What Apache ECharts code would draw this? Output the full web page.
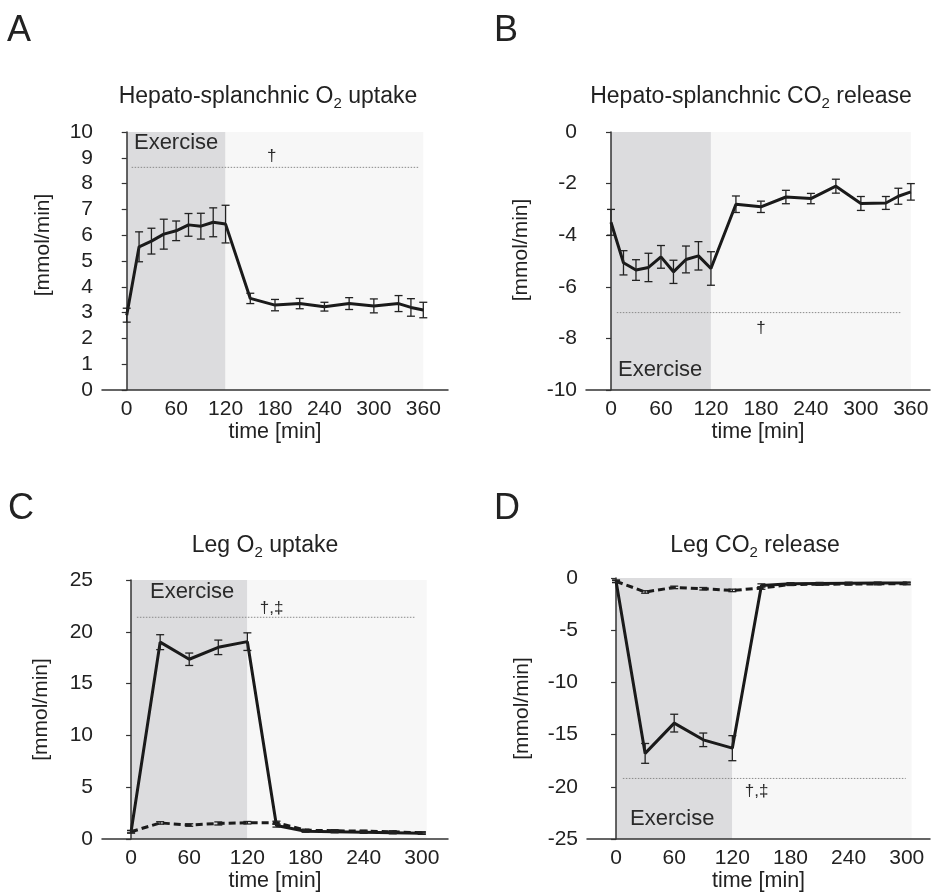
<!DOCTYPE html>
<html>
<head>
<meta charset="utf-8">
<script src="https://cdn.jsdelivr.net/npm/echarts@6/dist/echarts.min.js"></script>
<style>
html,body{margin:0;padding:0;background:#fff;}
#chart{width:935px;height:896px;}
</style>
</head>
<body>
<div id="chart"></div>
<script>
// ---- data ----
const timeHS = [0, 15, 30, 45, 60, 75, 90, 105, 120, 150, 180, 210, 240, 270, 300, 330, 345, 360];
const o2HS = [2.9, 5.55, 5.77, 6.04, 6.17, 6.4, 6.35, 6.5, 6.43, 3.55, 3.29, 3.35, 3.23, 3.35, 3.26, 3.35, 3.2, 3.1];
const o2HSErr = [0.27, 0.58, 0.5, 0.58, 0.38, 0.44, 0.5, 0.56, 0.73, 0.2, 0.22, 0.2, 0.17, 0.23, 0.27, 0.31, 0.34, 0.3];
const co2HS = [-3.5, -5.07, -5.35, -5.25, -4.84, -5.42, -4.94, -4.8, -5.29, -2.8, -2.9, -2.52, -2.58, -2.1, -2.77, -2.75, -2.49, -2.32];
const co2HSErr = [0.5, 0.47, 0.4, 0.55, 0.44, 0.45, 0.52, 0.55, 0.65, 0.32, 0.22, 0.26, 0.2, 0.27, 0.27, 0.25, 0.31, 0.32];

const timeLeg = [0, 30, 60, 90, 120, 150, 180, 210, 240, 270, 300];
const o2LegSolid = [0.7, 19.0, 17.35, 18.5, 19.05, 1.3, 0.75, 0.7, 0.65, 0.6, 0.55];
const o2LegSolidErr = [0.12, 0.72, 0.6, 0.7, 0.85, 0.15, 0.1, 0.1, 0.1, 0.1, 0.1];
const o2LegDashed = [0.7, 1.55, 1.35, 1.5, 1.57, 1.57, 0.85, 0.8, 0.75, 0.7, 0.6];
const o2LegDashedErr = [0.12, 0.12, 0.12, 0.15, 0.12, 0.15, 0.1, 0.1, 0.1, 0.1, 0.1];
const co2LegSolid = [-0.32, -16.8, -13.9, -15.5, -16.3, -0.71, -0.55, -0.52, -0.5, -0.49, -0.48];
const co2LegSolidErr = [0.12, 0.95, 0.85, 0.65, 1.2, 0.15, 0.1, 0.1, 0.1, 0.1, 0.1];
const co2LegDashed = [-0.32, -1.34, -0.9, -1.03, -1.19, -0.96, -0.62, -0.6, -0.58, -0.56, -0.55];
const co2LegDashedErr = [0.1, 0.12, 0.12, 0.12, 0.12, 0.12, 0.1, 0.1, 0.1, 0.1, 0.1];

const exerciseWindow = [0, 120];
const studyEndHS = 360;
const studyEndLeg = 305;

const xTicksHS = [0, 60, 120, 180, 240, 300, 360];
const xTicksLeg = [0, 60, 120, 180, 240, 300];

// significance lines and annotations
const sigLineA = [[6, 8.63], [354, 8.63]];
const sigLineB = [[7, -7.0], [348, -7.0]];
const sigLineC = [[6, 21.4], [293, 21.4]];
const sigLineD = [[7, -19.2], [299, -19.2]];
const sigTextA = [176, 9.04, '†'];
const sigTextB = [180, -7.6, '†'];
const sigTextC = [145, 22.3, '†,‡'];
const sigTextD = [145, -20.4, '†,‡'];
const exTextA = [60, 9.57, 'Exercise'];
const exTextB = [59, -9.24, 'Exercise'];
const exTextC = [63, 23.8, 'Exercise'];
const exTextD = [58, -23.05, 'Exercise'];

// ---- chart ----
const FONT = "'Liberation Sans', Arial, sans-serif";
const TXT = '#222';
const AX = '#333';

function pairs(xs, ys) { return xs.map((x, i) => [x, ys[i]]); }
function triples(xs, ys, es) { return xs.map((x, i) => [x, ys[i], es[i]]); }

function xAxisCfg(idx, min, max, ticks) {
  return {
    type: 'value', gridIndex: idx, min: min, max: max, interval: 30,
    axisLine: {onZero: false, lineStyle: {color: AX, width: 1.5}},
    axisTick: {show: false},
    splitLine: {show: false},
    axisLabel: {
      fontSize: 21, color: TXT, fontFamily: FONT, margin: 9,
      formatter: v => (ticks.indexOf(v) >= 0 ? String(v) : '')
    },
    name: 'time [min]', nameLocation: 'middle', nameGap: 30,
    nameTextStyle: {fontSize: 21.5, color: TXT, fontFamily: FONT}
  };
}
function yAxisCfg(idx, min, max, interval, gap, pad) {
  return {
    type: 'value', gridIndex: idx, min: min, max: max, interval: interval,
    axisLine: {show: true, lineStyle: {color: AX, width: 1.5}},
    axisTick: {show: true, inside: false, length: 5, lineStyle: {color: AX, width: 1.2}},
    splitLine: {show: false},
    axisLabel: {fontSize: 21, color: TXT, fontFamily: FONT, margin: 9},
    name: '[mmol/min]', nameLocation: 'middle', nameGap: gap,
    nameTextStyle: {fontSize: 21, color: TXT, fontFamily: FONT, padding: pad}
  };
}
function lineSeries(idx, data, dashed, shadeEnd) {
  const s = {
    type: 'line', xAxisIndex: idx, yAxisIndex: idx, data: data,
    symbol: 'none', z: 5,
    lineStyle: {color: '#1a1a1a', width: 3, type: dashed ? [7, 4] : 'solid'}
  };
  if (shadeEnd !== undefined) {
    s.markArea = {
      silent: true, z: 0,
      data: [
        [{xAxis: exerciseWindow[0], itemStyle: {color: '#dcdcde'}}, {xAxis: exerciseWindow[1]}],
        [{xAxis: exerciseWindow[1], itemStyle: {color: '#f7f7f7'}}, {xAxis: shadeEnd}]
      ]
    };
  }
  return s;
}
function errSeries(idx, data) {
  return {
    type: 'custom', xAxisIndex: idx, yAxisIndex: idx, data: data, z: 6,
    renderItem: function (params, api) {
      const x = api.value(0), y = api.value(1), e = api.value(2);
      const t = api.coord([x, y + e]);
      const b = api.coord([x, y - e]);
      const w = 4;
      const st = {stroke: '#222', lineWidth: 1.3};
      return {
        type: 'group', children: [
          {type: 'line', shape: {x1: t[0], y1: t[1], x2: b[0], y2: b[1]}, style: st},
          {type: 'line', shape: {x1: t[0] - w, y1: t[1], x2: t[0] + w, y2: t[1]}, style: st},
          {type: 'line', shape: {x1: b[0] - w, y1: b[1], x2: b[0] + w, y2: b[1]}, style: st}
        ]
      };
    }
  };
}
function sigSeries(idx, data) {
  return {
    type: 'line', xAxisIndex: idx, yAxisIndex: idx, data: data, symbol: 'none', z: 3,
    lineStyle: {color: '#8a8a8a', width: 1, type: [1.5, 1.5]}
  };
}
function textSeries(idx, items, size) {
  return {
    type: 'custom', xAxisIndex: idx, yAxisIndex: idx, data: items, z: 7,
    renderItem: function (params, api) {
      const p = api.coord([api.value(0), api.value(1)]);
      return {
        type: 'text', x: p[0], y: p[1],
        style: {text: items[params.dataIndex][2], fill: '#2a2a2a', fontSize: size,
          fontFamily: FONT, align: 'center', verticalAlign: 'middle'}
      };
    }
  };
}

const titleRich = {
  a: {fontSize: 23, color: TXT, fontFamily: FONT, lineHeight: 30},
  s: {fontSize: 15, color: TXT, fontFamily: FONT, lineHeight: 30, padding: [13, 0, 0, 0]}
};
function titleCfg(text, cx, top) {
  return {text: text, left: cx, top: top, textAlign: 'center', padding: 0,
    textStyle: {rich: titleRich, fontSize: 23, fontWeight: 'normal', color: TXT, fontFamily: FONT}};
}
function letterCfg(text, left, top) {
  return {text: text, left: left, top: top, padding: 0,
    textStyle: {fontSize: 36, fontWeight: 'normal', color: TXT, fontFamily: FONT}};
}

const option = {
  animation: false,
  backgroundColor: '#fff',
  title: [
    letterCfg('A', 7, 13),
    letterCfg('B', 494, 13),
    letterCfg('C', 8, 491),
    letterCfg('D', 494, 491),
    titleCfg('{a|Hepato-splanchnic O}{s|2}{a| uptake}', 268, 82),
    titleCfg('{a|Hepato-splanchnic CO}{s|2}{a| release}', 751, 82),
    titleCfg('{a|Leg O}{s|2}{a| uptake}', 265, 531),
    titleCfg('{a|Leg CO}{s|2}{a| release}', 755, 531)
  ],
  grid: [
    {left: 102, top: 132, width: 346, height: 258},
    {left: 586, top: 132, width: 344, height: 258},
    {left: 102, top: 580, width: 346, height: 259},
    {left: 587, top: 578, width: 343, height: 261}
  ],
  xAxis: [
    xAxisCfg(0, -30, 390, xTicksHS),
    xAxisCfg(1, -30, 383, xTicksHS),
    xAxisCfg(2, -30, 327, xTicksLeg),
    xAxisCfg(3, -30, 324, xTicksLeg)
  ],
  yAxis: [
    yAxisCfg(0, 0, 10, 1, 48, [0, 0, 0, 32]),
    yAxisCfg(1, -10, 0, 2, 54, [0, 0, 0, 22]),
    yAxisCfg(2, 0, 25, 5, 50, 0),
    yAxisCfg(3, -25, 0, 5, 54, 0)
  ],
  series: [
    lineSeries(0, pairs(timeHS, o2HS), false, studyEndHS),
    errSeries(0, triples(timeHS, o2HS, o2HSErr)),
    sigSeries(0, sigLineA),
    textSeries(0, [sigTextA], 17),
    textSeries(0, [exTextA], 22),

    lineSeries(1, pairs(timeHS, co2HS), false, studyEndHS),
    errSeries(1, triples(timeHS, co2HS, co2HSErr)),
    sigSeries(1, sigLineB),
    textSeries(1, [sigTextB], 17),
    textSeries(1, [exTextB], 22),

    lineSeries(2, pairs(timeLeg, o2LegSolid), false, studyEndLeg),
    lineSeries(2, pairs(timeLeg, o2LegDashed), true),
    errSeries(2, triples(timeLeg, o2LegSolid, o2LegSolidErr)),
    errSeries(2, triples(timeLeg, o2LegDashed, o2LegDashedErr)),
    sigSeries(2, sigLineC),
    textSeries(2, [sigTextC], 17),
    textSeries(2, [exTextC], 22),

    lineSeries(3, pairs(timeLeg, co2LegSolid), false, studyEndLeg),
    lineSeries(3, pairs(timeLeg, co2LegDashed), true),
    errSeries(3, triples(timeLeg, co2LegSolid, co2LegSolidErr)),
    errSeries(3, triples(timeLeg, co2LegDashed, co2LegDashedErr)),
    sigSeries(3, sigLineD),
    textSeries(3, [sigTextD], 17),
    textSeries(3, [exTextD], 22)
  ]
};

const chart = echarts.init(document.getElementById('chart'), null, {renderer: 'canvas'});
chart.setOption(option);
</script>
</body>
</html>
